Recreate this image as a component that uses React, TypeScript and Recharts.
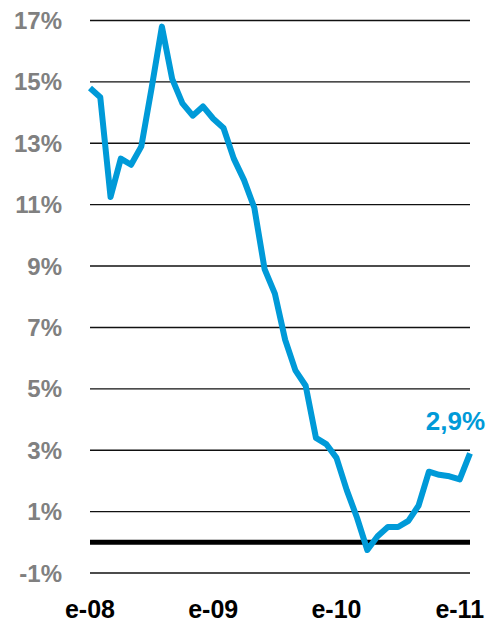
import { CartesianGrid, Line, LineChart, ReferenceLine, XAxis, YAxis } from "recharts";

const months = ["e", "f", "m", "a", "m", "j", "j", "a", "s", "o", "n", "d"];
const years = ["08", "09", "10", "11"];

// monthly labels, Jan 2008 .. Feb 2011
const periods: string[] = [];
years.forEach((y) => months.forEach((m) => periods.push(`${m}-${y}`)));
const categories = periods.slice(0, 38);

const rate = [
  14.8, 14.5, 11.25, 12.5, 12.3, 12.9, 14.8, 16.8, 15.1, 14.3, 13.9, 14.2,
  13.8, 13.5, 12.5, 11.8, 10.9, 8.9, 8.1, 6.6, 5.6, 5.1, 3.4, 3.2,
  2.75, 1.7, 0.8, -0.25, 0.2, 0.5, 0.5, 0.7, 1.2, 2.3, 2.2, 2.15,
  2.05, 2.9,
];

const yTicks = [-1, 1, 3, 5, 7, 9, 11, 13, 15, 17];

const data = categories.map((c, i) => ({ period: c, rate: rate[i] }));

const BLUE = "#009ad8";
const FONT = "'Liberation Sans', Arial, sans-serif";

function LastLabel(props: any) {
  const { x, y, index, value } = props;
  if (index !== data.length - 1) return null;
  return (
    <text
      x={x + 15}
      y={y - 23}
      textAnchor="end"
      fill={BLUE}
      fontSize={26}
      fontWeight="bold"
      fontFamily={FONT}
    >
      {`${Number(value).toFixed(1).replace(".", ",")}%`}
    </text>
  );
}

export default function App() {
  return (
    <div style={{ position: "absolute", left: 0, top: 0, background: "#fff" }}>
      <LineChart
        width={489}
        height={625}
        data={data}
        margin={{ top: 20.5, right: 19, bottom: 0, left: 0 }}
      >
        <CartesianGrid vertical={false} stroke="#111" strokeWidth={1.4} />
        <XAxis
          dataKey="period"
          interval={0}
          tickFormatter={(v: string) => (v.startsWith("e-") ? v : "")}
          axisLine={false}
          tickLine={false}
          tickSize={0}
          tickMargin={27}
          height={52}
          tick={{ fill: "#000", fontSize: 25, fontWeight: "bold", fontFamily: FONT }}
        />
        <YAxis
          domain={[-1, 17]}
          ticks={yTicks}
          tickFormatter={(v: number) => `${v}%`}
          axisLine={false}
          tickLine={false}
          tickSize={0}
          tickMargin={28}
          width={90}
          tick={{ fill: "#808080", fontSize: 24, fontWeight: "bold", fontFamily: FONT }}
        />
        <ReferenceLine y={0} stroke="#000" strokeWidth={5} />
        <Line
          dataKey="rate"
          stroke={BLUE}
          strokeWidth={6}
          strokeLinejoin="round"
          dot={false}
          label={<LastLabel />}
          isAnimationActive={false}
        />
      </LineChart>
    </div>
  );
}
